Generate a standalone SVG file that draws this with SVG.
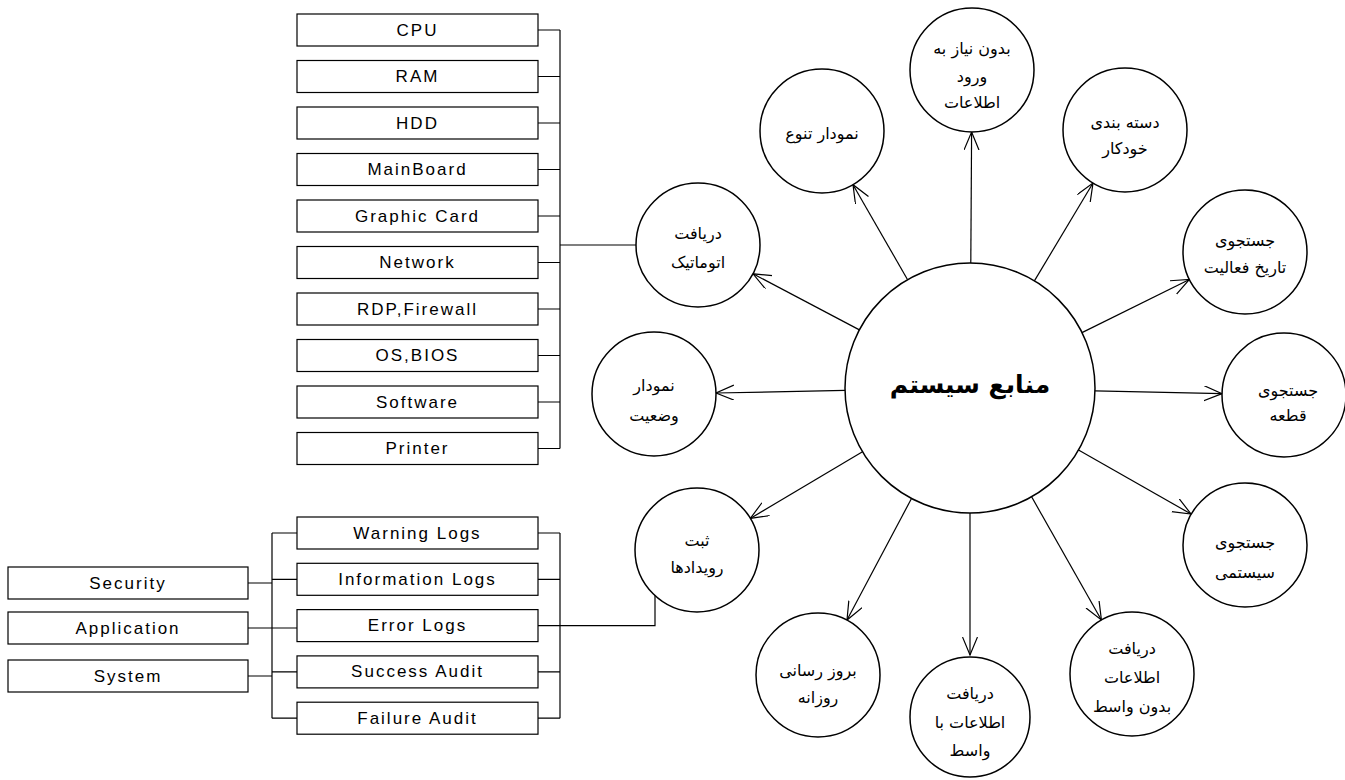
<svg xmlns="http://www.w3.org/2000/svg" width="1345" height="780" viewBox="0 0 1345 780">
<style>
.box{fill:#fff;stroke:#000;stroke-width:1.2}
.bt{font-family:"Liberation Sans",Arial,sans-serif;font-size:17px;letter-spacing:2px;text-anchor:middle;dominant-baseline:central}
.c{fill:#fff;stroke:#000;stroke-width:1.5}
.ft{font-family:"DejaVu Sans",sans-serif;font-size:16px;text-anchor:middle;dominant-baseline:central}
.ln{stroke:#000;stroke-width:1.2;fill:none}
.ar{stroke:#000;stroke-width:1.2;fill:none;marker-end:url(#ah)}
</style>
<defs>
<marker id="ah" markerUnits="userSpaceOnUse" markerWidth="22" markerHeight="16" refX="18" refY="7.5" orient="auto">
<path d="M0,0 L18,7.5 L0,15" fill="none" stroke="#000" stroke-width="1.2"/>
</marker>
</defs>
<rect width="1345" height="780" fill="#fff"/>
<g id="connectors">
<path class="ln" d="M538,30 H560 M538,76.5 H560 M538,123 H560 M538,169.5 H560 M538,216 H560 M538,262.5 H560 M538,309 H560 M538,355.5 H560 M538,402 H560 M538,448.5 H560 M560,30 V448.5 M560,245 H636"/>
<path class="ln" d="M538,533 H560 M538,579.3 H560 M538,625.6 H560 M538,671.9 H560 M538,718.2 H560 M560,533 V718.2 M560,625.6 H655 V593"/>
<path class="ln" d="M297,533 H272 M297,579.3 H272 M297,671.9 H272 M297,718.2 H272 M272,533 V718.2 M248,583 H272 M248,628 H297 M248,676 H272"/>
<line class="ar" x1="907.6" y1="279.7" x2="853" y2="184.7"/>
<line class="ar" x1="970.8" y1="263" x2="971.6" y2="132"/>
<line class="ar" x1="1034.4" y1="280.9" x2="1093" y2="183"/>
<line class="ar" x1="1082" y1="332.6" x2="1189.4" y2="279.5"/>
<line class="ar" x1="1095" y1="390.8" x2="1222" y2="393.6"/>
<line class="ar" x1="1078.5" y1="450" x2="1191" y2="514"/>
<line class="ar" x1="1031.6" y1="496.8" x2="1101.4" y2="620"/>
<line class="ar" x1="970" y1="513" x2="970" y2="655"/>
<line class="ar" x1="911.5" y1="498.5" x2="847" y2="620"/>
<line class="ar" x1="862.5" y1="451.8" x2="750.3" y2="518.4"/>
<line class="ar" x1="845" y1="390.4" x2="716" y2="393"/>
<line class="ar" x1="859.4" y1="329.9" x2="753" y2="273.8"/>
</g>
<g id="hw-boxes">
<g id="n-cpu"><rect class="box" x="297" y="14" width="241" height="32"/><text class="bt" x="417.5" y="30">CPU</text></g>
<g id="n-ram"><rect class="box" x="297" y="60.5" width="241" height="32"/><text class="bt" x="417.5" y="76.5">RAM</text></g>
<g id="n-hdd"><rect class="box" x="297" y="107" width="241" height="32"/><text class="bt" x="417.5" y="123">HDD</text></g>
<g id="n-mainboard"><rect class="box" x="297" y="153.5" width="241" height="32"/><text class="bt" x="417.5" y="169.5">MainBoard</text></g>
<g id="n-graphic"><rect class="box" x="297" y="200" width="241" height="32"/><text class="bt" x="417.5" y="216">Graphic Card</text></g>
<g id="n-network"><rect class="box" x="297" y="246.5" width="241" height="32"/><text class="bt" x="417.5" y="262.5">Network</text></g>
<g id="n-rdp"><rect class="box" x="297" y="293" width="241" height="32"/><text class="bt" x="417.5" y="309">RDP,Firewall</text></g>
<g id="n-os"><rect class="box" x="297" y="339.5" width="241" height="32"/><text class="bt" x="417.5" y="355.5">OS,BIOS</text></g>
<g id="n-software"><rect class="box" x="297" y="386" width="241" height="32"/><text class="bt" x="417.5" y="402">Software</text></g>
<g id="n-printer"><rect class="box" x="297" y="432.5" width="241" height="32"/><text class="bt" x="417.5" y="448.5">Printer</text></g>
</g>
<g id="log-boxes">
<g id="n-warning"><rect class="box" x="297" y="517" width="241" height="32"/><text class="bt" x="417.5" y="533">Warning Logs</text></g>
<g id="n-information"><rect class="box" x="297" y="563.3" width="241" height="32"/><text class="bt" x="417.5" y="579.3">Information Logs</text></g>
<g id="n-error"><rect class="box" x="297" y="609.6" width="241" height="32"/><text class="bt" x="417.5" y="625.6">Error Logs</text></g>
<g id="n-success"><rect class="box" x="297" y="655.9" width="241" height="32"/><text class="bt" x="417.5" y="671.9">Success Audit</text></g>
<g id="n-failure"><rect class="box" x="297" y="702.2" width="241" height="32"/><text class="bt" x="417.5" y="718.2">Failure Audit</text></g>
<g id="n-security"><rect class="box" x="8" y="567" width="240" height="32"/><text class="bt" x="128" y="583">Security</text></g>
<g id="n-application"><rect class="box" x="8" y="612" width="240" height="32"/><text class="bt" x="128" y="628">Application</text></g>
<g id="n-system"><rect class="box" x="8" y="660" width="240" height="32"/><text class="bt" x="128" y="676">System</text></g>
</g>
<g id="n-center"><circle class="c" cx="970" cy="388" r="125"/><text x="970" y="384" font-family="DejaVu Sans,sans-serif" font-size="25" font-weight="bold" text-anchor="middle" dominant-baseline="central">منابع سیستم</text></g>
<g id="n-c1"><circle class="c" cx="822" cy="131" r="62"/><text class="ft" x="822" y="133">نمودار تنوع</text></g>
<g id="n-c2"><circle class="c" cx="972" cy="70" r="62"/><text class="ft" x="972" y="48">بدون نیاز به</text><text class="ft" x="972" y="76">ورود</text><text class="ft" x="972" y="102">اطلاعات</text></g>
<g id="n-c3"><circle class="c" cx="1125" cy="130" r="62"/><text class="ft" x="1125" y="122">دسته بندی</text><text class="ft" x="1125" y="148">خودکار</text></g>
<g id="n-c4"><circle class="c" cx="1245" cy="252" r="62"/><text class="ft" x="1245" y="240">جستجوی</text><text class="ft" x="1245" y="267">تاریخ فعالیت</text></g>
<g id="n-c5"><circle class="c" cx="1284" cy="395" r="62"/><text class="ft" x="1288" y="390">جستجوی</text><text class="ft" x="1288" y="415">قطعه</text></g>
<g id="n-c6"><circle class="c" cx="1245" cy="545" r="62"/><text class="ft" x="1245" y="542">جستجوی</text><text class="ft" x="1245" y="572">سیستمی</text></g>
<g id="n-c7"><circle class="c" cx="1132" cy="674" r="62"/><text class="ft" x="1132" y="648">دریافت</text><text class="ft" x="1132" y="677">اطلاعات</text><text class="ft" x="1132" y="706">بدون واسط</text></g>
<g id="n-c8"><circle class="c" cx="970" cy="717" r="60"/><text class="ft" x="970" y="693">دریافت</text><text class="ft" x="970" y="722">اطلاعات با</text><text class="ft" x="970" y="750">واسط</text></g>
<g id="n-c9"><circle class="c" cx="818" cy="675" r="62"/><text class="ft" x="818" y="670">بروز رسانی</text><text class="ft" x="818" y="697">روزانه</text></g>
<g id="n-c10"><circle class="c" cx="697" cy="550" r="62"/><text class="ft" x="697" y="540">ثبت</text><text class="ft" x="697" y="567">رویدادها</text></g>
<g id="n-c11"><circle class="c" cx="654" cy="394" r="62"/><text class="ft" x="654" y="385">نمودار</text><text class="ft" x="654" y="415">وضعیت</text></g>
<g id="n-c12"><circle class="c" cx="698" cy="245" r="62"/><text class="ft" x="698" y="233">دریافت</text><text class="ft" x="698" y="262">اتوماتیک</text></g>
</svg>
